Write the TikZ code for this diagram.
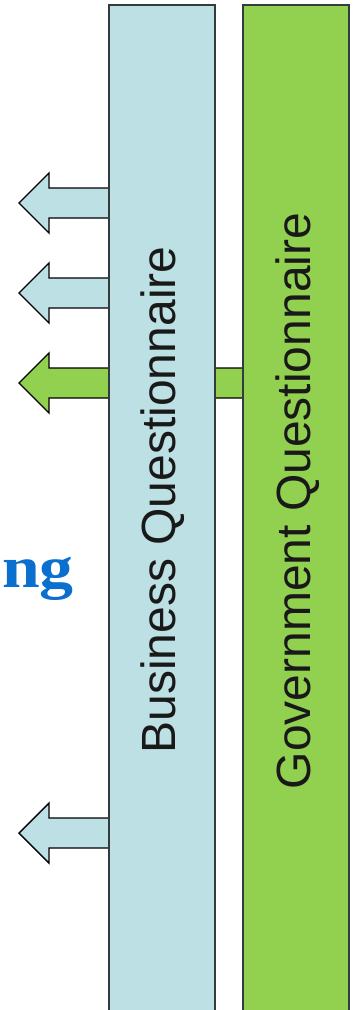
\documentclass[tikz,border=0pt]{standalone}
\usepackage{fontspec}
\setmainfont{Liberation Serif}
\newfontfamily\arialfont{Liberation Sans}
\usetikzlibrary{calc}
\definecolor{barblue}{HTML}{BDE0E4}
\definecolor{bargreen}{HTML}{92D050}
\definecolor{titleblue}{HTML}{0A6FCF}
\definecolor{edgegray}{HTML}{333B3E}
\pgfdeclarelayer{bg}
\pgfsetlayers{bg,main}
\begin{document}
\begin{tikzpicture}[x=1pt,y=-1pt,
  bar/.style={draw=edgegray, line width=2pt, outer sep=0pt, inner sep=0pt,
    minimum width=106pt, minimum height=1020pt, anchor=north west},
  bartext/.style={rotate=90, anchor=base, text=black!90,
    font=\arialfont\fontsize{48}{48}\selectfont},
  blockarrow/.style={draw=black, line width=1.4pt, line join=miter}]
\useasboundingbox (0,0) rectangle (359,1010);
\clip (0,0) rectangle (359,1010);

% bars
\node[bar, fill=barblue] (biz) at (109,5) {};
\node[bar, fill=bargreen] (gov) at (243,5) {};
\node[bartext] (biztext) at (175,500) {Business Questionnaire};
\node[bartext] (govtext) at (310,501) {Government Questionnaire};

% partial title
\node[anchor=base east, inner sep=0pt, text=titleblue,
  font=\bfseries\fontsize{59}{59}\selectfont] (title) at (74,587) {\scalebox{1.15}[1]{ng}};

% block arrows (behind the bars)
\begin{pgfonlayer}{bg}
\foreach \y/\n in {203/a1, 293/a2, 833/a4}{
  \coordinate (\n) at (biz.west |- 0,\y);
  \filldraw[blockarrow, fill=barblue]
    ($(\n)+(0,-15)$) -- ($(\n)+(-60,-15)$) -- ($(\n)+(-60,-30)$) --
    ($(\n)+(-90,0)$) -- ($(\n)+(-60,30)$) -- ($(\n)+(-60,15)$) -- ($(\n)+(0,15)$);
}
\coordinate (a3) at (gov.west |- 0,383);
\filldraw[blockarrow, fill=bargreen]
  ($(a3)+(0,-15)$) -- ($(a3)+(-194,-15)$) -- ($(a3)+(-194,-30)$) --
  ($(a3)+(-224,0)$) -- ($(a3)+(-194,30)$) -- ($(a3)+(-194,15)$) -- ($(a3)+(0,15)$);
\end{pgfonlayer}
\end{tikzpicture}
\end{document}
